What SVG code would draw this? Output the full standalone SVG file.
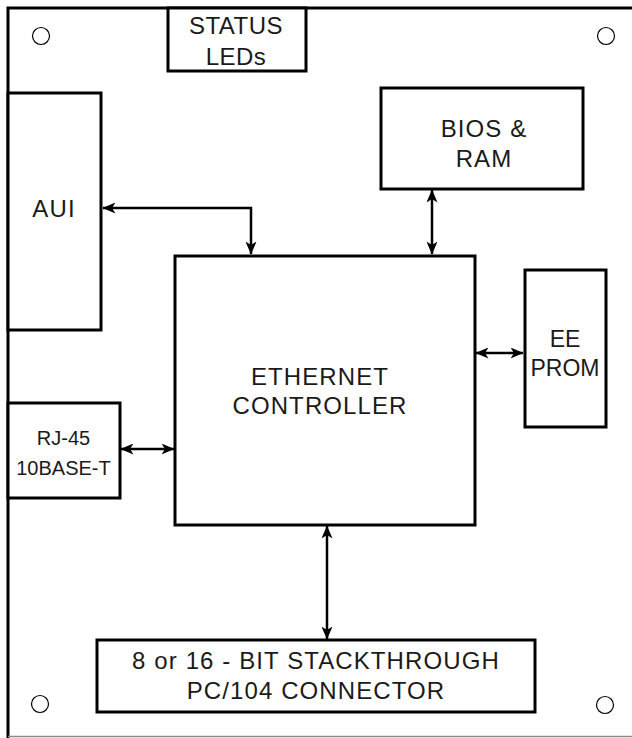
<svg xmlns="http://www.w3.org/2000/svg" width="632" height="738" viewBox="0 0 632 738">
<style>
.box{fill:#fff;stroke:#000;stroke-width:3}
.hole{fill:none;stroke:#000;stroke-width:1.2}
.t{font-family:"Liberation Sans",Arial,sans-serif;font-size:24px;fill:#1a1a1a;text-anchor:middle;letter-spacing:1.1px}
.tn{letter-spacing:0}
.c{fill:none;stroke:#000;stroke-width:2.5}
</style>
<defs>
<marker id="ah" viewBox="0 0 13 11" refX="12.5" refY="5.5" markerWidth="13" markerHeight="11" markerUnits="userSpaceOnUse" orient="auto-start-reverse">
<path d="M0,0 L13,5.5 L0,11 L3.5,5.5 z" fill="#000"/>
</marker>
</defs>
<rect width="632" height="738" fill="#fff"/>
<g id="board">
<path d="M8,738 V8 H632" fill="none" stroke="#000" stroke-width="3"/>
<line x1="8" y1="736.5" x2="632" y2="736.5" stroke="#888" stroke-width="1.5"/>
<circle class="hole" cx="41" cy="36" r="8.5"/>
<circle class="hole" cx="606" cy="36" r="8.5"/>
<circle class="hole" cx="40" cy="704" r="8.5"/>
<circle class="hole" cx="605" cy="705" r="8.5"/>
</g>
<g id="connectors">
<polyline class="c" points="103,208 251,208 251,254" marker-start="url(#ah)" marker-end="url(#ah)"/>
<line class="c" x1="432" y1="190" x2="432" y2="254" marker-start="url(#ah)" marker-end="url(#ah)"/>
<line class="c" x1="476" y1="353" x2="523" y2="353" marker-start="url(#ah)" marker-end="url(#ah)"/>
<line class="c" x1="121" y1="449" x2="174" y2="449" marker-start="url(#ah)" marker-end="url(#ah)"/>
<line class="c" x1="327" y1="526" x2="327" y2="639" marker-start="url(#ah)" marker-end="url(#ah)"/>
</g>
<g id="status-leds">
<rect class="box" x="168" y="8" width="138" height="63"/>
<text class="t" x="236" y="34" style="letter-spacing:0.5px">STATUS</text>
<text class="t" x="236" y="65" style="letter-spacing:0.5px">LEDs</text>
</g>
<g id="aui">
<rect class="box" x="8" y="93" width="93" height="237"/>
<text class="t" x="54" y="217">AUI</text>
</g>
<g id="bios-ram">
<rect class="box" x="381" y="88" width="202" height="101"/>
<text class="t" x="484" y="137">BIOS &amp;</text>
<text class="t" x="484" y="167">RAM</text>
</g>
<g id="ethernet-controller">
<rect class="box" x="175" y="256" width="300" height="269"/>
<text class="t" x="320" y="385">ETHERNET</text>
<text class="t" x="320" y="414">CONTROLLER</text>
</g>
<g id="eeprom">
<rect class="box" x="525" y="270" width="81" height="157"/>
<text class="t tn" x="565" y="347" style="font-size:23px">EE</text>
<text class="t tn" x="565" y="376" style="font-size:23px">PROM</text>
</g>
<g id="rj45">
<rect class="box" x="8" y="403" width="112" height="95"/>
<text class="t tn" x="63.5" y="445" style="font-size:20px">RJ-45</text>
<text class="t tn" x="63.5" y="475" style="font-size:20px">10BASE-T</text>
</g>
<g id="pc104-connector">
<rect class="box" x="97" y="640" width="438" height="72"/>
<text class="t" x="316" y="669">8 or 16 - BIT STACKTHROUGH</text>
<text class="t" x="316" y="699">PC/104 CONNECTOR</text>
</g>
</svg>
